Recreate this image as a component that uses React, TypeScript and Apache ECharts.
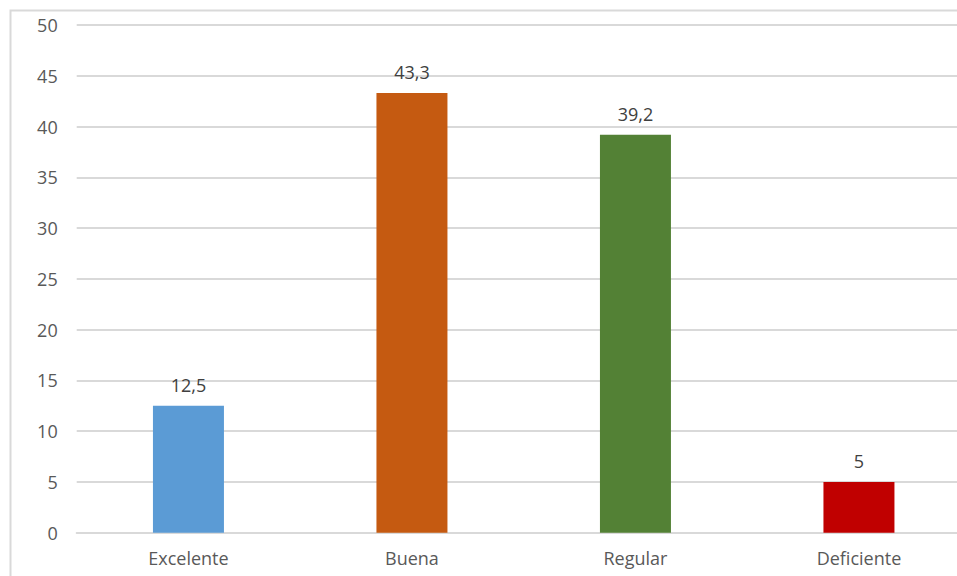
import React, { useEffect, useRef } from "react";
import * as echarts from "echarts";

const categories = ["Excelente", "Buena", "Regular", "Deficiente"];
const values = [12.5, 43.3, 39.2, 5];
const barColors = ["#5B9BD5", "#C55A11", "#538135", "#C00000"];

export default function App() {
  const ref = useRef<HTMLDivElement>(null);
  useEffect(() => {
    const chart = echarts.init(ref.current!, undefined, { renderer: "svg" });
    chart.setOption({
      animation: false,
      backgroundColor: "#ffffff",
      textStyle: { fontFamily: "Open Sans" },
      graphic: [
        {
          type: "rect",
          shape: { x: 10.5, y: 10.5, width: 1100, height: 700 },
          style: { fill: "none", stroke: "#d9d9d9", lineWidth: 2 },
          silent: true,
        },
      ],
      grid: { left: 76.7, right: 29.3, top: 25, bottom: 67.3, containLabel: false },
      xAxis: {
        type: "category",
        data: categories,
        axisLine: { show: true, lineStyle: { color: "#d9d9d9", width: 2 } },
        axisTick: { show: false },
        axisLabel: { color: "#595959", fontSize: 18, margin: 16 },
      },
      yAxis: {
        type: "value",
        min: 0,
        max: 50,
        interval: 5,
        axisLine: { show: false },
        axisTick: { show: false },
        splitLine: { lineStyle: { color: "#d9d9d9", width: 2 } },
        axisLabel: { color: "#595959", fontSize: 18, margin: 19 },
      },
      series: [
        {
          type: "bar",
          barWidth: 71,
          data: values.map((v, i) => ({ value: v, itemStyle: { color: barColors[i] } })),
          label: {
            show: true,
            position: "top",
            distance: 12,
            color: "#404040",
            fontSize: 18,
            formatter: (p: any) => String(p.value).replace(".", ","),
          },
        },
      ],
    });
    return () => chart.dispose();
  }, []);
  return (
    <div style={{ position: "fixed", left: 0, top: 0, width: 957, height: 576, overflow: "hidden" }}>
      <div ref={ref} style={{ width: 1000, height: 600 }} />
    </div>
  );
}
